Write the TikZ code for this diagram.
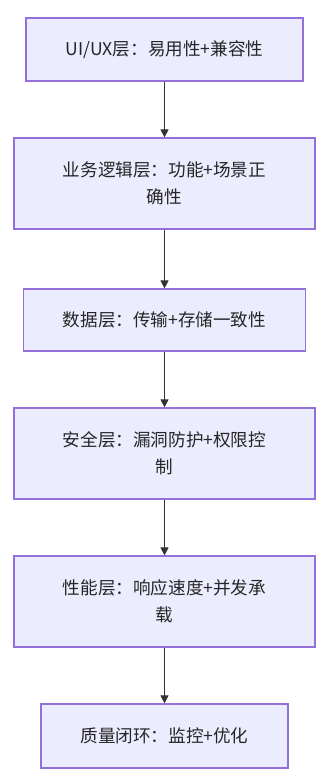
\documentclass[tikz,border=0pt]{standalone}
\usepackage{fontspec}
\setmainfont{Noto Sans CJK SC}
\usetikzlibrary{arrows.meta}
\pgfdeclarelayer{edgelayer}
\pgfdeclarelayer{nodelayer}
\pgfsetlayers{edgelayer,nodelayer,main}
\definecolor{boxfill}{HTML}{ECECFF}
\definecolor{boxline}{HTML}{9370DB}
\definecolor{arrowline}{HTML}{333333}
\tikzstyle{layer}=[rectangle, fill=boxfill, draw=boxline, line width=0.9pt, inner sep=0pt, align=center, font=\fontsize{13.2pt}{20pt}\selectfont, text=black!85]
\tikzstyle{edge}=[draw=arrowline, line width=0.8pt, -{Triangle[length=6pt,width=6pt]}]

\begin{document}
\begin{tikzpicture}[x=0.75pt, y=-0.75pt]
						\useasboundingbox (0, 0) rectangle (335, 781);
						\begin{pgfonlayer}{nodelayer}
							\node [style=layer, minimum width=207.75pt, minimum height=47.25pt] (1) at (164.5, 49.5) {UI/UX层：易用性+兼容性};
							\node [style=layer, minimum width=225.75pt, minimum height=68.25pt] (2) at (164.5, 183.5) {业务逻辑层：功能+场景正\\确性};
							\node [style=layer, minimum width=211.5pt, minimum height=46.5pt] (3) at (164.5, 320) {数据层：传输+存储一致性};
							\node [style=layer, minimum width=225.75pt, minimum height=68.25pt] (4) at (164.5, 453.5) {安全层：漏洞防护+权限控\\制};
							\node [style=layer, minimum width=225.75pt, minimum height=68.25pt] (5) at (164.5, 601.5) {性能层：响应速度+并发承\\载};
							\node [style=layer, minimum width=185.25pt, minimum height=48pt] (6) at (164.5, 736) {质量闭环：监控+优化};
						\end{pgfonlayer}
						\begin{pgfonlayer}{edgelayer}
							\draw [style=edge] (1) to (2);
							\draw [style=edge] (2) to (3);
							\draw [style=edge] (3) to (4);
							\draw [style=edge] (4) to (5);
							\draw [style=edge] (5) to (6);
						\end{pgfonlayer}
					\end{tikzpicture}
\end{document}
